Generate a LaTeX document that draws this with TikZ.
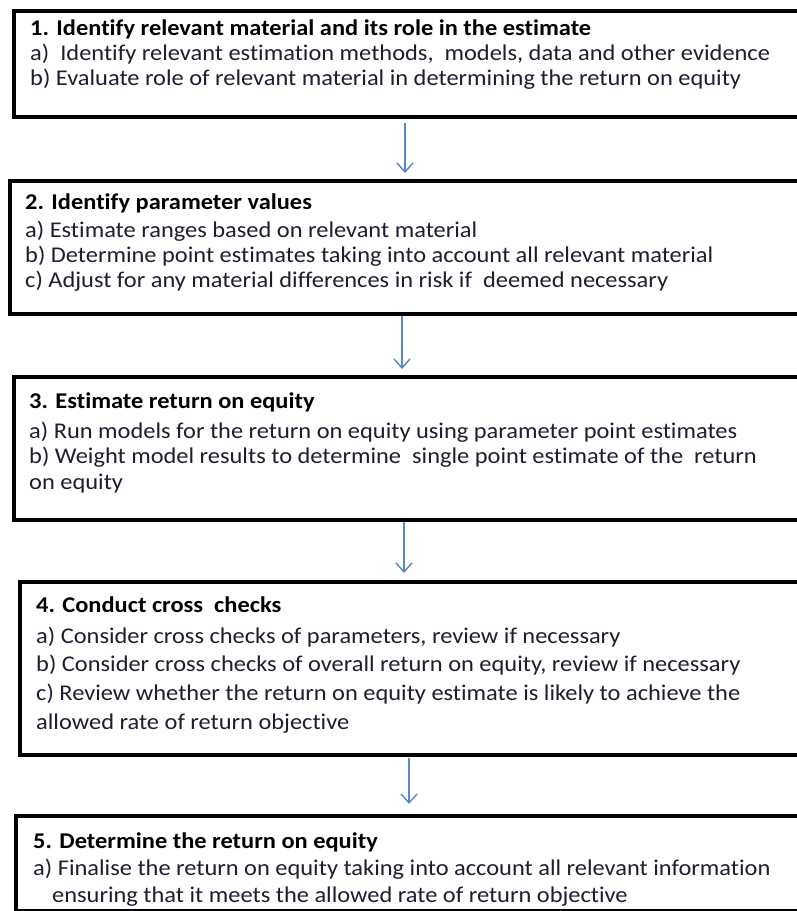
\documentclass[tikz,border=0pt]{standalone}
\usepackage{fontspec}
\setmainfont{Carlito}[FakeStretch=1.085, Ligatures=NoCommon]
\usetikzlibrary{arrows.meta}
\definecolor{arrowblue}{HTML}{5B87C5}
\definecolor{bodytext}{HTML}{1E1E30}
\tikzset{
  box/.style={draw=black, line width=4pt, inner sep=0pt, outer sep=0pt, fill=white},
  ttl/.style={anchor=base west, inner sep=0pt, font=\fontsize{22.5}{26}\selectfont\bfseries, text=black},
  txt/.style={anchor=base west, inner sep=0pt, font=\fontsize{22.5}{26}\selectfont, text=bodytext},
  arr/.style={draw=arrowblue, line width=1.4pt, -{Straight Barb[length=9pt,width=16pt,line width=1.4pt]}}
}
\begin{document}
\begin{tikzpicture}[x=1pt,y=-1pt]
\useasboundingbox (0,0) rectangle (797,911);
\clip (0,0) rectangle (797,911);
\fill[white] (0,0) rectangle (797,911);
% boxes
\node[box, minimum width=786pt, minimum height=106pt] (b1) at (407,64) {};
\node[box, minimum width=788.5pt, minimum height=133pt] (b2) at (404.25,247.5) {};
\node[box, minimum width=786pt, minimum height=143pt] (b3) at (407,448.5) {};
\node[box, minimum width=780pt, minimum height=173pt] (b4) at (410,668.5) {};
\node[box, minimum width=784pt, minimum height=95pt] (b5) at (408,863.5) {};
% box 1
\node[ttl] (t10) at (30,35) {1. Identify relevant material and its role in the estimate};
\node[txt] (t11) at (30,60) {a)\ \ Identify relevant estimation methods,\ \ models, data and other evidence};
\node[txt] (t12) at (30,85) {b) Evaluate role of relevant material in determining the return on equity};
% box 2
\node[ttl] (t20) at (25,209) {2. Identify parameter values};
\node[txt] (t21) at (25,237) {a) Estimate ranges based on relevant material};
\node[txt] (t22) at (25,262) {b) Determine point estimates taking into account all relevant material};
\node[txt] (t23) at (25,287) {c) Adjust for any material differences in risk if\ \ deemed necessary};
% box 3
\node[ttl] (t30) at (29,408) {3. Estimate return on equity};
\node[txt] (t31) at (29,438) {a) Run models for the return on equity using parameter point estimates};
\node[txt] (t32) at (29,463) {b) Weight model results to determine\ \ single point estimate of the\ \ return};
\node[txt] (t33) at (29,489) {on equity};
% box 4
\node[ttl] (t40) at (36,612) {4. Conduct cross\ \ checks};
\node[txt] (t41) at (36,643) {a) Consider cross checks of parameters, review if necessary};
\node[txt] (t42) at (36,671) {b) Consider cross checks of overall return on equity, review if necessary};
\node[txt] (t43) at (36,700) {c) Review whether the return on equity estimate is likely to achieve the};
\node[txt] (t44) at (36,729) {allowed rate of return objective};
% box 5
\node[ttl] (t50) at (33,848) {5. Determine the return on equity};
\node[txt] (t51) at (33,875) {a) Finalise the return on equity taking into account all relevant information};
\node[txt] (t52) at (52,902) {ensuring that it meets the allowed rate of return objective};
% arrows
\draw[arr] ([xshift=-2pt,yshift=-6pt]b1.south) -- ([xshift=0.75pt,yshift=8pt]b2.north);
\draw[arr] ([xshift=-2.25pt,yshift=-2pt]b2.south) -- ([xshift=-5pt,yshift=8pt]b3.north);
\draw[arr] ([xshift=-3pt,yshift=-2pt]b3.south) -- ([xshift=-6pt,yshift=9pt]b4.north);
\draw[arr] ([xshift=-1pt,yshift=-3pt]b4.south) -- ([xshift=1pt,yshift=12pt]b5.north);
\end{tikzpicture}
\end{document}
